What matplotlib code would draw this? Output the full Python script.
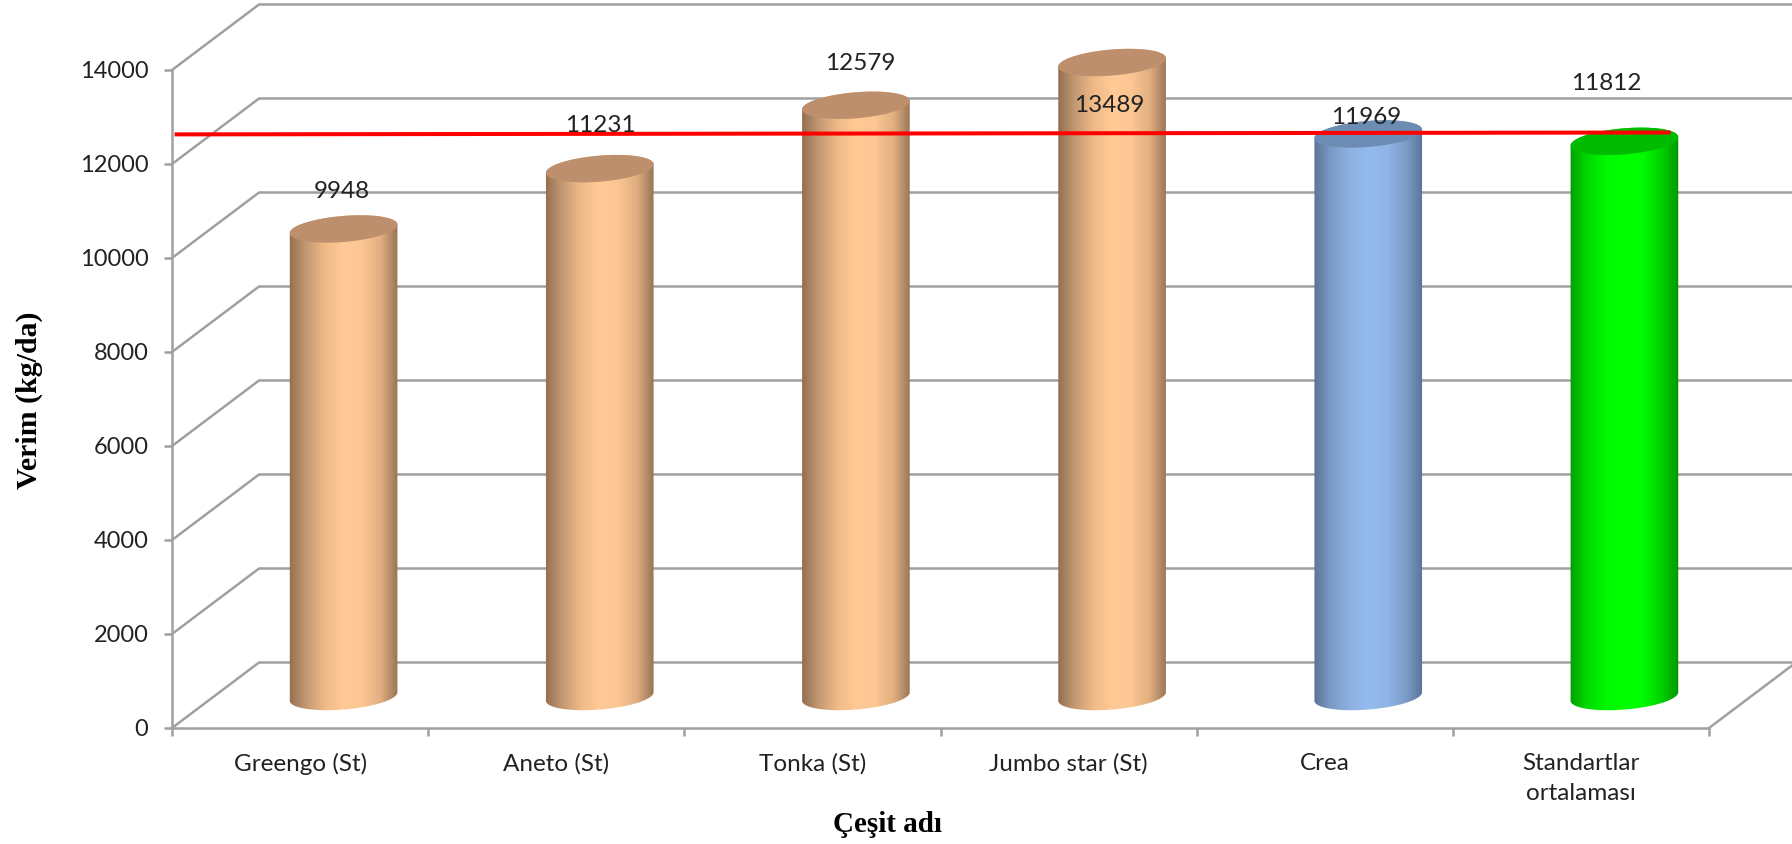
import numpy as np
import matplotlib
matplotlib.use('Agg')
import matplotlib.pyplot as plt
from matplotlib.colors import LinearSegmentedColormap
from matplotlib.patches import Polygon

# values
categories = ['Greengo (St)', 'Aneto (St)', 'Tonka (St)', 'Jumbo star (St)', 'Crea', 'Standartlar\nortalaması']
values = [9948, 11231, 12579, 13489, 11969, 11812]
yticks = [0, 2000, 4000, 6000, 8000, 10000, 12000, 14000]
bar_kind = ['peach', 'peach', 'peach', 'peach', 'blue', 'green']
mean_line_x = [0.01, 5.85]
mean_line_y = [12630, 12670]

# label positions in pixels, the labels were moved by hand in the original
label_px = [(342, 192), (600, 126), (860, 63), (1109, 106), (1366, 118), (1606, 83)]

W, H = 1792, 844
x0, x1 = 172, 1709   # axis in pixels
y0, y1 = 728, 70
px_x = (x1 - x0) / 6.0
px_y = (y0 - y1) / 14000.0

depth_x = 87 / px_x      # shift of the back wall
depth_y = 65.5 / px_y
mid_x = 43.5 / px_x      # bars stand half way back
mid_y = 31.5 / px_y

colors = {
    'peach': (['#8d6a4c', '#c39973', '#f0ba88', '#ffca96', '#fcc692', '#e0ae80', '#8f6c4e'], '#bd8f6c'),
    'blue': (['#566f93', '#7c9bc6', '#8db1e2', '#95bbee', '#8fb4e6', '#7d9cc8', '#566f93'], '#6c8cb4'),
    'green': (['#009a00', '#00d800', '#00f800', '#00ff00', '#00fc00', '#00d000', '#008f00'], '#00bb00'),
}

fig = plt.figure(figsize=(W / 100, H / 100), dpi=100, facecolor='white')
ax = fig.add_axes([x0 / W, 1 - y0 / H, (x1 - x0) / W, (y0 - y1) / H])
ax.set_xlim(0, 6)
ax.set_ylim(0, 14000)
ax.patch.set_alpha(0)

grid_color = '#a0a0a0'
grid_lw = 1.8
for v in yticks:
    # side wall and back wall
    ax.plot([0, depth_x, 6 + depth_x], [v, v + depth_y, v + depth_y], color=grid_color, lw=grid_lw,
            clip_on=False, zorder=1, solid_joinstyle='miter')
ax.plot([6, 6 + depth_x], [0, depth_y], color=grid_color, lw=grid_lw, clip_on=False, zorder=1)

for s in ['top', 'right']:
    ax.spines[s].set_visible(False)
for s in ['left', 'bottom']:
    ax.spines[s].set_color(grid_color)
    ax.spines[s].set_linewidth(grid_lw)
    ax.spines[s].set_zorder(1.5)

ax.set_yticks(yticks)
ax.set_xticks(range(7))
ax.set_xticklabels([])
ax.set_xticks(np.arange(6) + 0.5, minor=True)
ax.set_xticklabels(categories, minor=True, family='Lato', fontsize=17.5, color='#222222', linespacing=1.5)
ax.tick_params(axis='x', which='major', length=6, width=grid_lw, color=grid_color)
ax.tick_params(axis='x', which='minor', length=0, pad=18)
ax.tick_params(axis='y', length=6, width=grid_lw, color=grid_color, labelsize=17, labelcolor='#222222', pad=11)
for t in ax.get_yticklabels():
    t.set_family('Lato')


def ellipse(cx, cy, t):
    a, b, th = 54.0, 13.0, np.radians(4.8)
    ex = a * np.cos(t) * np.cos(th) - b * np.sin(t) * np.sin(th)
    ey = a * np.cos(t) * np.sin(th) + b * np.sin(t) * np.cos(th)
    return cx + ex / px_x, cy + ey / px_y


for i, v in enumerate(values):
    cx = i + 0.5 + mid_x
    grad, top = colors[bar_kind[i]]
    cmap = LinearSegmentedColormap.from_list(bar_kind[i], grad)
    lo = np.linspace(np.pi, 2 * np.pi, 60)
    hi = np.linspace(0, np.pi, 60)
    bx, by = ellipse(cx, mid_y, lo)
    tx, ty = ellipse(cx, mid_y + v, hi)
    body = Polygon(np.column_stack([np.r_[bx, tx], np.r_[by, ty]]), closed=True,
                   transform=ax.transData, fc='none', ec='none')
    ax.add_patch(body)
    im = ax.imshow(np.linspace(0, 1, 256).reshape(1, -1), cmap=cmap, aspect='auto',
                   extent=[cx - 0.22, cx + 0.22, 0, mid_y + v + 600], zorder=2)
    im.set_clip_box(fig.bbox)   # the tallest bar goes above the axes box
    im.set_clip_path(body)
    t_all = np.linspace(0, 2 * np.pi, 120)
    ex, ey = ellipse(cx, mid_y + v, t_all)
    ax.add_patch(Polygon(np.column_stack([ex, ey]), closed=True, fc=top, ec='none', zorder=3, clip_on=False))

ax.set_xlim(0, 6)
ax.set_ylim(0, 14000)

for v, (px, py) in zip(values, label_px):
    fig.text(px / W, 1 - py / H, str(v), family='Lato', fontsize=17.5, color='#222222',
             ha='center', va='center', zorder=4)

ax.plot(mean_line_x, mean_line_y, color='#ff0000', lw=2.9, clip_on=False, zorder=6, solid_capstyle='butt')

fig.text(29 / W, 1 - 400 / H, 'Verim (kg/da)', family='Liberation Serif', fontweight='bold', fontsize=21.5,
         rotation=90, ha='center', va='center', color='black')
fig.text(887 / W, 1 - 824 / H, 'Çeşit adı', family='Liberation Serif', fontweight='bold', fontsize=21,
         ha='center', va='center', color='black')

fig.savefig('out.png', dpi=100, facecolor='white')
